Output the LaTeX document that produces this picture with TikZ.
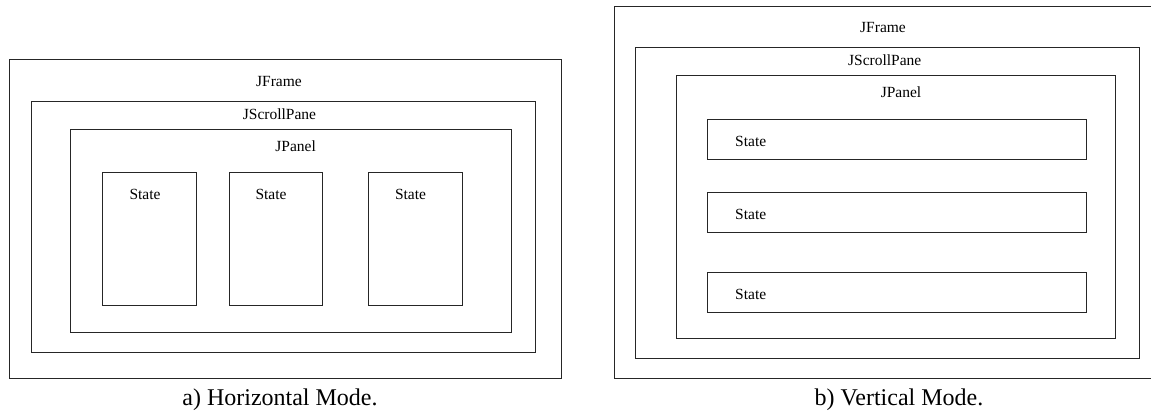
\documentclass[tikz,border=0pt]{standalone}
\usepackage{fontspec}
\setmainfont{Liberation Serif}
\begin{document}
\begin{tikzpicture}[x=1pt,y=-1pt,
  panebox/.style={draw=black!85, line width=0.9pt, inner sep=0pt, anchor=north west},
  tag/.style={font=\fontsize{15.5}{18}\selectfont, inner sep=0pt, anchor=base},
  lefttag/.style={tag, anchor=base west},
  caption/.style={font=\fontsize{24}{28}\selectfont, inner sep=0pt, anchor=base}]
\useasboundingbox (0,0) rectangle (1151,410);

% ---- a) horizontal layout ----
\node[panebox, minimum width=552pt, minimum height=318.7pt] (lframe)  at (9.3,59.3)   {};
\node[panebox, minimum width=504pt, minimum height=251pt]   (lscroll) at (30.7,100.7) {};
\node[panebox, minimum width=440.4pt, minimum height=203pt] (lpanel)  at (70.3,128.7) {};
\node[panebox, minimum width=93.4pt, minimum height=132.7pt] (lstate1) at (102.3,172.3) {};
\node[panebox, minimum width=93pt,   minimum height=132.7pt] (lstate2) at (228.7,172.3) {};
\node[panebox, minimum width=93.2pt, minimum height=132.7pt] (lstate3) at (368.3,172.3) {};

\node[tag] (lframelbl)  at (279,86.8)   {JFrame};
\node[tag] (lscrolllbl) at (279.5,119.1) {JScrollPane};
\node[tag] (lpanellbl)  at (295.7,151.8) {JPanel};
\node[tag] (lstate1lbl) at (145,199.1)   {State};
\node[tag] (lstate2lbl) at (271,199.1)   {State};
\node[tag] (lstate3lbl) at (410.5,199.1) {State};

\node[caption] (capa) at (280,405) {a) Horizontal Mode.};

% ---- b) vertical layout ----
\node[panebox, minimum width=538pt, minimum height=372pt]   (rframe)  at (614,5.7)    {};
\node[panebox, minimum width=504pt, minimum height=311pt]   (rscroll) at (635.3,47.3) {};
\node[panebox, minimum width=439.6pt, minimum height=262.7pt] (rpanel) at (675.7,75.3) {};
\node[panebox, minimum width=379pt, minimum height=40.3pt] (rstate1) at (707.3,118.7) {};
\node[panebox, minimum width=379pt, minimum height=39.7pt] (rstate2) at (707.3,192.3) {};
\node[panebox, minimum width=379pt, minimum height=39.8pt] (rstate3) at (707.3,271.7) {};

\node[tag] (rframelbl)  at (883,32.8)   {JFrame};
\node[tag] (rscrolllbl) at (884.7,65.8) {JScrollPane};
\node[tag] (rpanellbl)  at (901,97.8)   {JPanel};
\node[lefttag] (rstate1lbl) at (735,146.6) {State};
\node[lefttag] (rstate2lbl) at (735,219.8) {State};
\node[lefttag] (rstate3lbl) at (735,299.3) {State};

\node[caption] (capb) at (899,405) {b) Vertical Mode.};
\end{tikzpicture}
\end{document}
